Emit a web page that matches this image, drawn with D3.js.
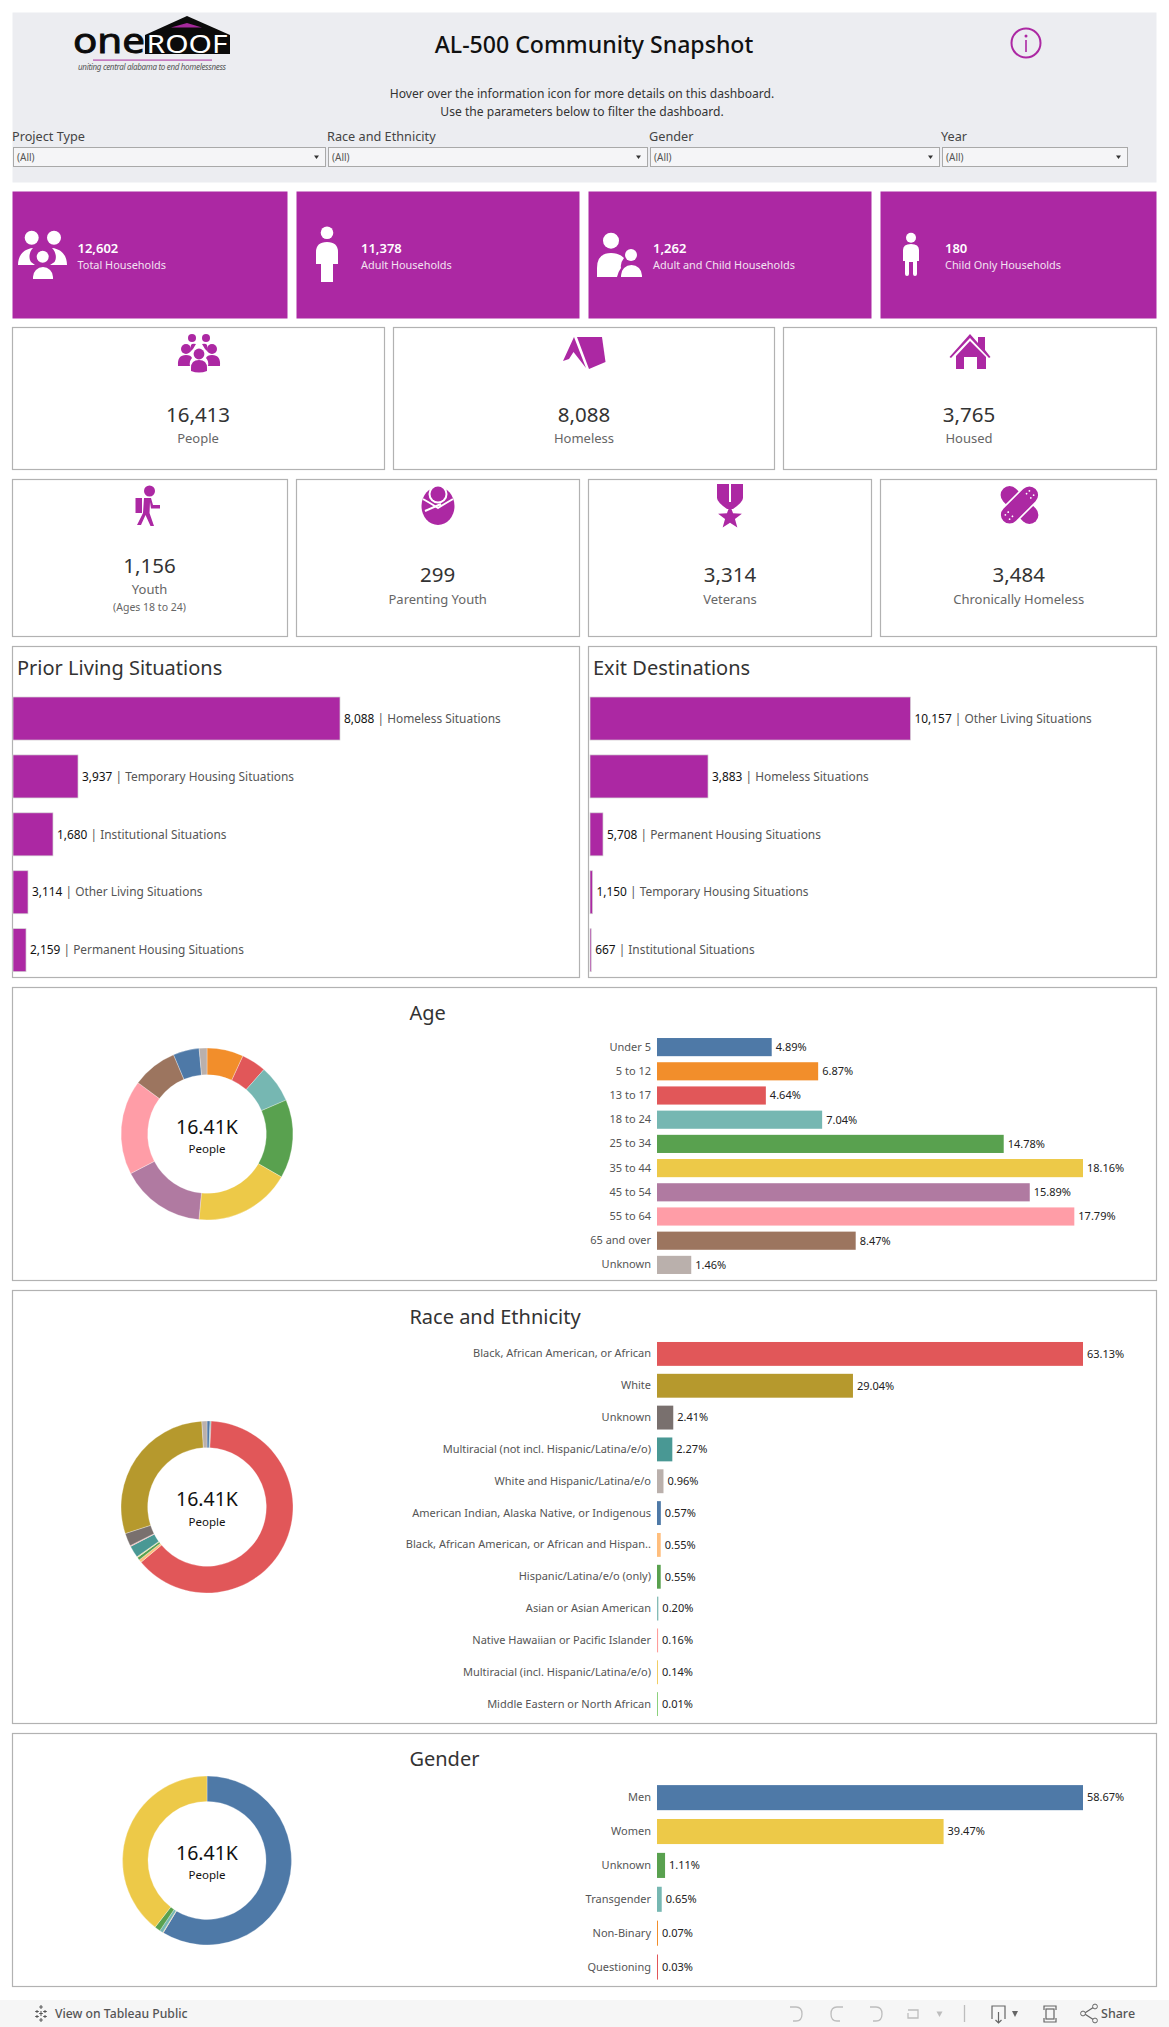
<!DOCTYPE html>
<html><head><meta charset="utf-8">
<style>html,body{margin:0;padding:0;background:#fff}svg{display:block}text{font-family:"Noto Sans",sans-serif}</style>
<script src="https://cdn.jsdelivr.net/npm/d3@7"></script></head><body><div id="c"></div>
<script>
// ---------- data ----------
const filterLabels = ["Project Type","Race and Ethnicity","Gender","Year"];
const householdValues = ["12,602","11,378","1,262","180"];
const householdLabels = ["Total Households","Adult Households","Adult and Child Households","Child Only Households"];
const peopleValues = ["16,413","8,088","3,765"];
const peopleLabels = ["People","Homeless","Housed"];
const subgroupValues = ["1,156","299","3,314","3,484"];
const subgroupLabels = ["Youth","Parenting Youth","Veterans","Chronically Homeless"];

const priorLabels = ["Homeless Situations","Temporary Housing Situations","Institutional Situations","Other Living Situations","Permanent Housing Situations"];
const priorCounts = ["8,088","3,937","1,680","3,114","2,159"];
const priorBarLengths = [8088,1608,989,371,322];
const exitLabels = ["Other Living Situations","Homeless Situations","Permanent Housing Situations","Temporary Housing Situations","Institutional Situations"];
const exitCounts = ["10,157","3,883","5,708","1,150","667"];
const exitBarLengths = [10157,3740,412,80,38];

const ageCategories = ["Under 5","5 to 12","13 to 17","18 to 24","25 to 34","35 to 44","45 to 54","55 to 64","65 and over","Unknown"];
const agePercents = [4.89,6.87,4.64,7.04,14.78,18.16,15.89,17.79,8.47,1.46];
const ageColors = ["#4e79a7","#f28e2b","#e15759","#76b7b2","#59a14f","#edc948","#b07aa1","#ff9da7","#9c755f","#bab0ac"];
const ageDonutOrder = ["5 to 12","13 to 17","18 to 24","25 to 34","35 to 44","45 to 54","55 to 64","65 and over","Under 5","Unknown"];

const raceCategories = ["Black, African American, or African","White","Unknown","Multiracial (not incl. Hispanic/Latina/e/o)","White and Hispanic/Latina/e/o","American Indian, Alaska Native, or Indigenous","Black, African American, or African and Hispan..","Hispanic/Latina/e/o (only)","Asian or Asian American","Native Hawaiian or Pacific Islander","Multiracial (incl. Hispanic/Latina/e/o)","Middle Eastern or North African"];
const racePercents = [63.13,29.04,2.41,2.27,0.96,0.57,0.55,0.55,0.20,0.16,0.14,0.01];
const raceColors = ["#e15759","#b6992d","#79706e","#499894","#bab0ac","#4e79a7","#ffbe7d","#59a14f","#86bcb6","#ff9d9a","#f1ce63","#8cd17d"];
const raceDonutOrder = ["American Indian, Alaska Native, or Indigenous","Asian or Asian American","Black, African American, or African","Black, African American, or African and Hispan..","Hispanic/Latina/e/o (only)","Middle Eastern or North African","Multiracial (incl. Hispanic/Latina/e/o)","Multiracial (not incl. Hispanic/Latina/e/o)","Native Hawaiian or Pacific Islander","Unknown","White","White and Hispanic/Latina/e/o"];

const genderCategories = ["Men","Women","Unknown","Transgender","Non-Binary","Questioning"];
const genderPercents = [58.67,39.47,1.11,0.65,0.07,0.03];
const genderColors = ["#4e79a7","#edc948","#59a14f","#76b7b2","#f28e2b","#e15759"];
const genderDonutOrder = ["Men","Questioning","Non-Binary","Transgender","Unknown","Women"];

// ---------- helpers ----------
const PURPLE="#ac28a3", BORDER="#b2b2b2";
const svg=d3.select("#c").append("svg").attr("width",1169).attr("height",2027).attr("viewBox","0 0 1169 2027");
function txt(p,x,y,s,size,fill,anchor,weight){
  return p.append("text").attr("x",x).attr("y",y).attr("dy","0.35em").text(s)
   .attr("font-size",size).attr("fill",fill||"#333").attr("text-anchor",anchor||"start").attr("font-weight",weight||400);
}
function box(x0,y0,x1,y1,fill,stroke){
  return svg.append("rect").attr("x",x0+.5).attr("y",y0+.5).attr("width",x1-x0-1).attr("height",y1-y0-1)
   .attr("fill",fill||"#fff").attr("stroke",stroke||BORDER).attr("stroke-width",stroke==="none"?0:1.2);
}
function dome(x0,x1,yt,yb){const r=(x1-x0)/2, ry=Math.min(r,yb-yt);
  return `M${x0} ${yb}V${yt+ry}A${r} ${ry} 0 0 1 ${x1} ${yt+ry}V${yb}Z`;}
function circ(g,cx,cy,r,f){g.append("circle").attr("cx",cx).attr("cy",cy).attr("r",r).attr("fill",f);}
function path(g,d,f){return g.append("path").attr("d",d).attr("fill",f);}

// ---------- header ----------
box(12,12,1157,183,"#ecedf1","none");
// logo
const logo=svg.append("g");
path(logo,"M187 16L230 35V54H145V35Z","#0b0b0b");
path(logo,"M187 23L202 27.5H171Z","#a52a9c");
logo.append("text").attr("x",73).attr("y",53).attr("font-size",34).attr("font-family","Liberation Sans").attr("textLength",72).attr("lengthAdjust","spacingAndGlyphs").attr("fill","#0b0b0b").attr("stroke","#0b0b0b").attr("stroke-width",.9).text("one");
logo.append("text").attr("x",146.5).attr("y",52.5).attr("font-size",24.5).attr("font-family","Liberation Sans").attr("textLength",81).attr("lengthAdjust","spacingAndGlyphs").attr("fill","#fff").text("ROOF");
logo.append("rect").attr("x",93).attr("y",59.5).attr("width",119).attr("height",1.2).attr("fill","#b54bac");
logo.append("text").attr("x",78).attr("y",70).attr("font-size",8).attr("font-style","italic").attr("font-family","Liberation Serif").attr("textLength",148).attr("fill","#555").text("uniting central alabama to end homelessness");

txt(svg,594,45,"AL-500 Community Snapshot",23.1,"#111","middle",500);
txt(svg,582,94,"Hover over the information icon for more details on this dashboard.",12.1,"#333","middle");
txt(svg,582,112,"Use the parameters below to filter the dashboard.",12.1,"#333","middle");
// info icon
svg.append("circle").attr("cx",1026).attr("cy",43).attr("r",14.5).attr("fill","none").attr("stroke",PURPLE).attr("stroke-width",2);
circ(svg,1026,36,1.5,PURPLE);
svg.append("rect").attr("x",1025.2).attr("y",40).attr("width",1.6).attr("height",12).attr("fill",PURPLE);

// filters
const filterX=[12,327,649,941], dropX=[[13,326],[328,648],[650,940],[942,1128]];
filterLabels.forEach((l,i)=>{
  txt(svg,filterX[i],136.5,l,12.7,"#444");
  svg.append("rect").attr("x",dropX[i][0]+.5).attr("y",147.5).attr("width",dropX[i][1]-dropX[i][0]-1).attr("height",19).attr("fill","#f5f5f7").attr("stroke","#a9a9a9");
  txt(svg,dropX[i][0]+4,157,"(All)",10,"#555");
  const ax=dropX[i][1]-9.5;
  path(svg,`M${ax-2.5} 155.5H${ax+2.5}L${ax} 159Z`,"#333");
});

// ---------- household cards ----------
const cardX=[[12,288],[296,580],[588,872],[880,1157]];
const houseTextX=[77.5,361,653,945];
householdValues.forEach((v,i)=>{
  box(cardX[i][0],191,cardX[i][1],319,PURPLE,"none");
  txt(svg,houseTextX[i],248,v,13,"#fff","start",600);
  txt(svg,houseTextX[i],265,householdLabels[i],10.9,"#f3e3f2");
});
const W="#fff";
// total households
circ(svg,31.7,237.7,7,W);circ(svg,54,237.7,7,W);circ(svg,42.7,256.7,6,W);
path(svg,"M18 265C18 256 23 249 33 248C29 252 28.5 258 31 262L35 265Z",W);
path(svg,"M67 265C67 256 62 249 52 248C56 252 57 258 54.5 262L50 265Z",W);
path(svg,dome(33,53,267,279),W);
// adult
circ(svg,327,232.7,6.3,W);
path(svg,"M316 264V252Q316 242 327 242Q338 242 338 252V264H333V282H321V264Z",W);
// adult + child
circ(svg,611,240.7,8,W);circ(svg,631,255,6,W);
path(svg,"M597 277V268Q597 253 611 253Q619 253 624 258Q620 263 621 268Q618 272 617 277Z",W);
path(svg,dome(621,642,265,277),W);
// child
circ(svg,911,237.7,5,W);
path(svg,"M903 261V250Q903 244 911 244Q919 244 919 250V261H917V274Q917 276 915 276Q913 276 913 274V262H909V274Q909 276 907 276Q905 276 905 274V261Z",W);

// ---------- people cards ----------
const peopleBox=[[12,385],[393,775],[783,1157]], peopleCx=[198,584,969];
peopleValues.forEach((v,i)=>{
  box(peopleBox[i][0],327,peopleBox[i][1],470);
  txt(svg,peopleCx[i],415,v,20.5,"#333","middle");
  txt(svg,peopleCx[i],438.7,peopleLabels[i],13,"#666","middle");
});
// people icon
circ(svg,192,338,4,PURPLE);circ(svg,206,338,4,PURPLE);
path(svg,"M190 352L191 345Q192 343 196 344L193 349Z",PURPLE);
path(svg,"M208 352L207 345Q206 343 202 344L205 349Z",PURPLE);
circ(svg,186,349,5,PURPLE);circ(svg,212,349,5,PURPLE);circ(svg,199,354,5.4,PURPLE);
path(svg,"M178 366Q177 355 186 355Q191 355 192 358Q189 361 190 366Z",PURPLE);
path(svg,"M220 366Q221 355 212 355Q207 355 206 358Q209 361 208 366Z",PURPLE);
path(svg,"M191 371V368Q191 360 199 360Q207 360 207 368V371Q199 374 191 371Z",PURPLE);
// tent
path(svg,"M574 337L563 361L569 359L573.5 352L586 368Z",PURPLE);
path(svg,"M577 337H602L605.5 362L589 369Z",PURPLE);
// house
path(svg,"M970 334L978 343V337H985V350L990.5 357L989 358L970 338L951 358L949.5 357Z",PURPLE);
path(svg,"M970 341L986 357V369H977V357H964V369H956V356Z",PURPLE);

// ---------- subgroup cards ----------
const subCx=[149.5,437.7,730,1018.7];
subgroupValues.forEach((v,i)=>{
  box(cardX[i][0],479,cardX[i][1],637);
  const ny=i===0?566:575, ly=i===0?589:599;
  txt(svg,subCx[i],ny,v,20.5,"#333","middle");
  txt(svg,subCx[i],ly,subgroupLabels[i],13,"#666","middle");
});
txt(svg,subCx[0],607,"(Ages 18 to 24)",10.5,"#666","middle");
// youth
circ(svg,149.5,491,5.5,PURPLE);
path(svg,"M135.5 498H142V513H135.5Z",PURPLE);
path(svg,"M144 498H151L153 505H160V508.5H151L150 502L149.5 513L154 526H150.5L145.5 515L141 525H137L143 513Z",PURPLE);
// parenting youth
svg.append("ellipse").attr("cx",438).attr("cy",506).attr("rx",16.5).attr("ry",19).attr("fill",PURPLE);
svg.append("path").attr("d","M423 499Q430 503 438 508Q446 503 453 499M425 511L441 504").attr("fill","none").attr("stroke","#fff").attr("stroke-width",2);
circ(svg,438,494,9.5,"#fff");circ(svg,438,494,7.5,PURPLE);
// veterans
path(svg,"M717 484H743V498Q743 502 733 509H727Q717 502 717 498Z",PURPLE);
svg.append("rect").attr("x",729).attr("y",484).attr("width",2).attr("height",18).attr("fill","#fff");
const star=d3.range(10).map(i=>{const r=i%2?5.2:12.5,a=-Math.PI/2+i*Math.PI/5;return [730+r*Math.cos(a),517.5+r*Math.sin(a)];});
path(svg,"M"+star.join("L")+"Z",PURPLE);
// chronically homeless
const band=svg.append("g").attr("transform","translate(1019.5,505)");
band.append("rect").attr("x",-23).attr("y",-9).attr("width",46).attr("height",18).attr("rx",9).attr("fill",PURPLE).attr("transform","rotate(45)");
band.append("rect").attr("x",-23.5).attr("y",-9.5).attr("width",47).attr("height",19).attr("rx",9.5).attr("fill",PURPLE).attr("stroke","#fff").attr("stroke-width",1.6).attr("transform","rotate(-45)");
[-17,-13,13,17].forEach(d=>[-3,3].forEach(o=>band.append("circle").attr("r",.9).attr("fill","#fff").attr("transform",`rotate(-45) translate(${d},${o})`)));

// ---------- situation panels ----------
function situationPanel(x0,x1,title,labels,counts,lengths,xStart,xEnd){
  box(x0,646,x1,978);
  txt(svg,x0+5,668,title,20,"#333","start",400);
  const y=d3.scaleBand().domain(labels).range([689.6,979.1]).paddingInner(0.257).paddingOuter(0.128);
  const x=d3.scaleLinear().domain([0,d3.max(lengths)]).range([xStart,xEnd]);
  labels.forEach((l,i)=>{
    svg.append("rect").attr("x",xStart).attr("y",y(l)).attr("width",x(lengths[i])-xStart).attr("height",y.bandwidth())
      .attr("fill",PURPLE).attr("stroke","#d4d4d4").attr("stroke-width",.7);
    const t=txt(svg,x(lengths[i])+4,y(l)+y.bandwidth()/2,"",11.9,"#111");
    t.append("tspan").text(counts[i]);
    t.append("tspan").attr("fill","#555").text(" | "+l);
  });
}
situationPanel(12,580,"Prior Living Situations",priorLabels,priorCounts,priorBarLengths,13,340);
situationPanel(588,1157,"Exit Destinations",exitLabels,exitCounts,exitBarLengths,590,910.5);

// ---------- distribution panels ----------
function distPanel(o){
  box(12,o.top,1157,o.bottom);
  txt(svg,409.4,o.titleY,o.title,20,"#333","start",400);
  const y=d3.scaleBand().domain(o.cats).range(o.band).paddingInner(o.pad).paddingOuter(o.pad/2);
  const x=d3.scaleLinear().domain([0,d3.max(o.vals)]).range([657,1083]);
  const axis=d3.axisLeft(y).tickSize(0).tickPadding(6);
  const ag=svg.append("g").attr("transform","translate(657,0)").call(axis);
  ag.select(".domain").remove();
  ag.selectAll("text").attr("font-size",11).attr("fill","#555").attr("font-family",'"Noto Sans",sans-serif');
  const color=d3.scaleOrdinal().domain(o.cats).range(o.colors);
  svg.append("g").selectAll("rect").data(o.cats).join("rect")
    .attr("x",657).attr("y",d=>y(d)).attr("height",y.bandwidth())
    .attr("width",(d,i)=>Math.max(1,x(o.vals[i])-657)).attr("fill",d=>color(d));
  o.cats.forEach((c,i)=>{
    const end=Math.max(658,x(o.vals[i]));
    txt(svg,end+4,y(c)+y.bandwidth()/2,o.vals[i].toFixed(2)+"%",11,"#222");
  });
  const pie=d3.pie().sort(null).value(d=>o.vals[o.cats.indexOf(d)]);
  const arc=d3.arc().innerRadius(o.r0).outerRadius(o.r1);
  svg.append("g").attr("transform",`translate(207,${o.cy})`).selectAll("path").data(pie(o.order)).join("path")
    .attr("d",arc).attr("fill",d=>color(d.data)).attr("stroke","#fff").attr("stroke-width",.3);
  txt(svg,207,o.numY,"16.41K",19.5,"#111","middle");
  txt(svg,207,o.lblY,"People",11.5,"#111","middle");
}
distPanel({top:987,bottom:1281,title:"Age",titleY:1013,cats:ageCategories,vals:agePercents,colors:ageColors,order:ageDonutOrder,
  band:[1035,1277],pad:0.25,cy:1134,r0:59.3,r1:86,numY:1126.7,lblY:1149});
distPanel({top:1290,bottom:1724,title:"Race and Ethnicity",titleY:1317,cats:raceCategories,vals:racePercents,colors:raceColors,order:raceDonutOrder,
  band:[1338,1720],pad:0.25,cy:1507,r0:59.3,r1:86,numY:1499,lblY:1522});
distPanel({top:1733,bottom:1987,title:"Gender",titleY:1759,cats:genderCategories,vals:genderPercents,colors:genderColors,order:genderDonutOrder,
  band:[1780.7,1984],pad:0.26,cy:1860.5,r0:59,r1:84.5,numY:1853,lblY:1875});

// ---------- toolbar ----------
svg.append("rect").attr("x",0).attr("y",2000).attr("width",1169).attr("height",27).attr("fill","#f6f6f6");
const tb=svg.append("g").attr("fill","none").attr("stroke","#bdbdbd").attr("stroke-width",1.3);
[[796,1],[837,-1],[876,1]].forEach(([x,s])=>tb.append("path").attr("d",`M${x-s*6} 2007H${x}Q${x+s*6} 2007 ${x+s*6} 2014Q${x+s*6} 2021 ${x} 2021H${x-s*3}`));
tb.append("path").attr("d","M908 2010H918V2018H908V2013");
path(svg,"M936.5 2011.5H942.5L939.5 2017Z","#bdbdbd");
tb.append("path").attr("d","M964.5 2005V2022");
const tb2=svg.append("g").attr("fill","none").attr("stroke","#666").attr("stroke-width",1.2);
tb2.append("path").attr("d","M992 2019V2006H1005V2019M998.5 2012V2023M995.5 2020L998.5 2023L1001.5 2020");
path(svg,"M1012 2011H1018L1015 2017Z","#666");
tb2.append("path").attr("d","M1044 2010V2006H1056V2010M1044 2018V2022H1056V2018");
tb2.append("rect").attr("x",1046).attr("y",2009).attr("width",8).attr("height",10);
tb2.append("path").attr("d","M1094 2007L1084 2013.5L1094 2020");
[[1095,2006.5],[1083,2013.5],[1095,2020.5]].forEach(([x,y])=>svg.append("circle").attr("cx",x).attr("cy",y).attr("r",2.4).attr("fill","#f6f6f6").attr("stroke","#666"));
txt(svg,1101,2014,"Share",12.5,"#555","start",500);
txt(svg,55,2014,"View on Tableau Public",12.2,"#555","start",500);
const lg=svg.append("g").attr("stroke","#555").attr("stroke-width",1);
[[41,2005,2009],[41,2018,2022],[37,2010,2013],[45,2010,2013],[37,2015,2018],[45,2015,2018],[41,2011,2016]].forEach(([x,a,b])=>{
  lg.append("path").attr("d",`M${x} ${a}V${b}`);lg.append("path").attr("d",`M${x-1.8} ${(a+b)/2}H${x+1.8}`);
});
</script></body></html>
